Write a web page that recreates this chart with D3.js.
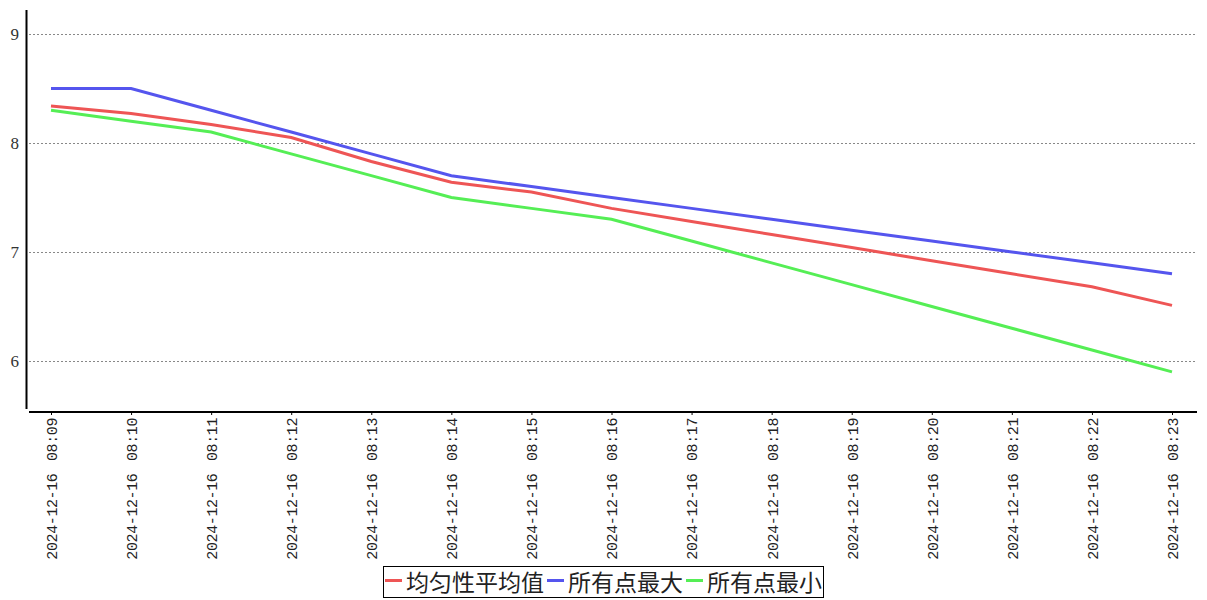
<!DOCTYPE html>
<html>
<head>
<meta charset="utf-8">
<script src="https://cdn.jsdelivr.net/npm/d3@7"></script>
<style>
body { margin: 0; background: #fff; }
svg { display: block; }
</style>
</head>
<body>
<div id="chart"></div>
<script type="text/javascript">
var times = ["08:09", "08:10", "08:11", "08:12", "08:13", "08:14", "08:15", "08:16",
             "08:17", "08:18", "08:19", "08:20", "08:21", "08:22", "08:23"];
var labels = times.map(function(t) { return "2024-12-16 " + t; });
var avgVals = [8.34, 8.27, 8.17, 8.05, 7.83, 7.64, 7.55, 7.40, 7.28, 7.16, 7.04, 6.92, 6.80, 6.68, 6.51];
var maxVals = [8.5, 8.5, 8.3, 8.1, 7.9, 7.7, 7.6, 7.5, 7.4, 7.3, 7.2, 7.1, 7.0, 6.9, 6.8];
var minVals = [8.3, 8.2, 8.1, 7.9, 7.7, 7.5, 7.4, 7.3, 7.1, 6.9, 6.7, 6.5, 6.3, 6.1, 5.9];
var seriesNames = ["均匀性平均值", "所有点最大", "所有点最小"];
var seriesColors = ["#ee5555", "#5555ee", "#55ee55"];
var yTicks = [6, 7, 8, 9];

var w = 1207, h = 600;
var svg = d3.select("#chart").append("svg")
    .attr("width", w)
    .attr("height", h);

var x = d3.scalePoint().domain(labels).range([51, 1172]);
var y = d3.scaleLinear().domain([5.55, 9.22]).range([410, 10]);

// grid
svg.append("g").selectAll("line")
    .data(yTicks)
  .enter().append("line")
    .attr("x1", 29).attr("x2", 1196)
    .attr("y1", function(d) { return Math.round(y(d)) + 0.5; })
    .attr("y2", function(d) { return Math.round(y(d)) + 0.5; })
    .style("stroke", "#888")
    .style("stroke-dasharray", "2,2");

// y labels
svg.append("g").selectAll("text")
    .data(yTicks)
  .enter().append("text")
    .attr("x", 19)
    .attr("y", function(d) { return y(d) + 6; })
    .attr("text-anchor", "end")
    .style("font-family", "Liberation Serif, serif")
    .style("font-size", "17px")
    .style("fill", "#333")
    .text(function(d) { return d; });

// y axis line
svg.append("line")
    .attr("x1", 26.5).attr("x2", 26.5)
    .attr("y1", 10).attr("y2", 409)
    .style("stroke", "#000").style("stroke-width", 2);

// x axis
var xAxis = d3.axisBottom(x).tickSize(3).tickSizeOuter(0);
var gx = svg.append("g")
    .attr("transform", "translate(0,412)")
    .call(xAxis);
gx.select(".domain").remove();
gx.selectAll(".tick line").style("stroke", "#000");
gx.append("line")
    .attr("x1", 29).attr("x2", 1197)
    .attr("y1", 0).attr("y2", 0)
    .style("stroke", "#000").style("stroke-width", 2);
gx.selectAll(".tick text")
    .attr("transform", "rotate(-90)")
    .attr("x", -6)
    .attr("y", 0)
    .attr("dy", "0.36em")
    .attr("text-anchor", "end")
    .style("font-family", "Liberation Mono, monospace")
    .style("font-size", "15px")
    .style("letter-spacing", "-0.4px")
    .style("word-spacing", "4px")
    .style("fill", "#222");

// lines
var allSeries = [avgVals, maxVals, minVals];
var line = d3.line()
    .x(function(d, i) { return x(labels[i]); })
    .y(function(d) { return y(d); });

svg.append("g").selectAll("path")
    .data(allSeries)
  .enter().append("path")
    .attr("d", line)
    .style("fill", "none")
    .style("stroke", function(d, i) { return seriesColors[i]; })
    .style("stroke-width", 3);

// legend
var lg = svg.append("g");
lg.append("rect")
    .attr("x", 383.5).attr("y", 566.5)
    .attr("width", 440).attr("height", 31)
    .style("fill", "#fff").style("stroke", "#000");

var lx = 385;
seriesNames.forEach(function(name, i) {
  lg.append("line")
    .attr("x1", lx).attr("x2", lx + 17)
    .attr("y1", 580.5).attr("y2", 580.5)
    .style("stroke", seriesColors[i]).style("stroke-width", 3);
  var t = lg.append("text")
    .attr("x", lx + 21)
    .attr("y", 591)
    .style("font-family", "Noto Sans CJK SC")
    .style("font-size", "23px")
    .style("fill", "#222")
    .text(name);
  lx += 21 + t.node().getComputedTextLength() + 3;
});
</script>
</body>
</html>
